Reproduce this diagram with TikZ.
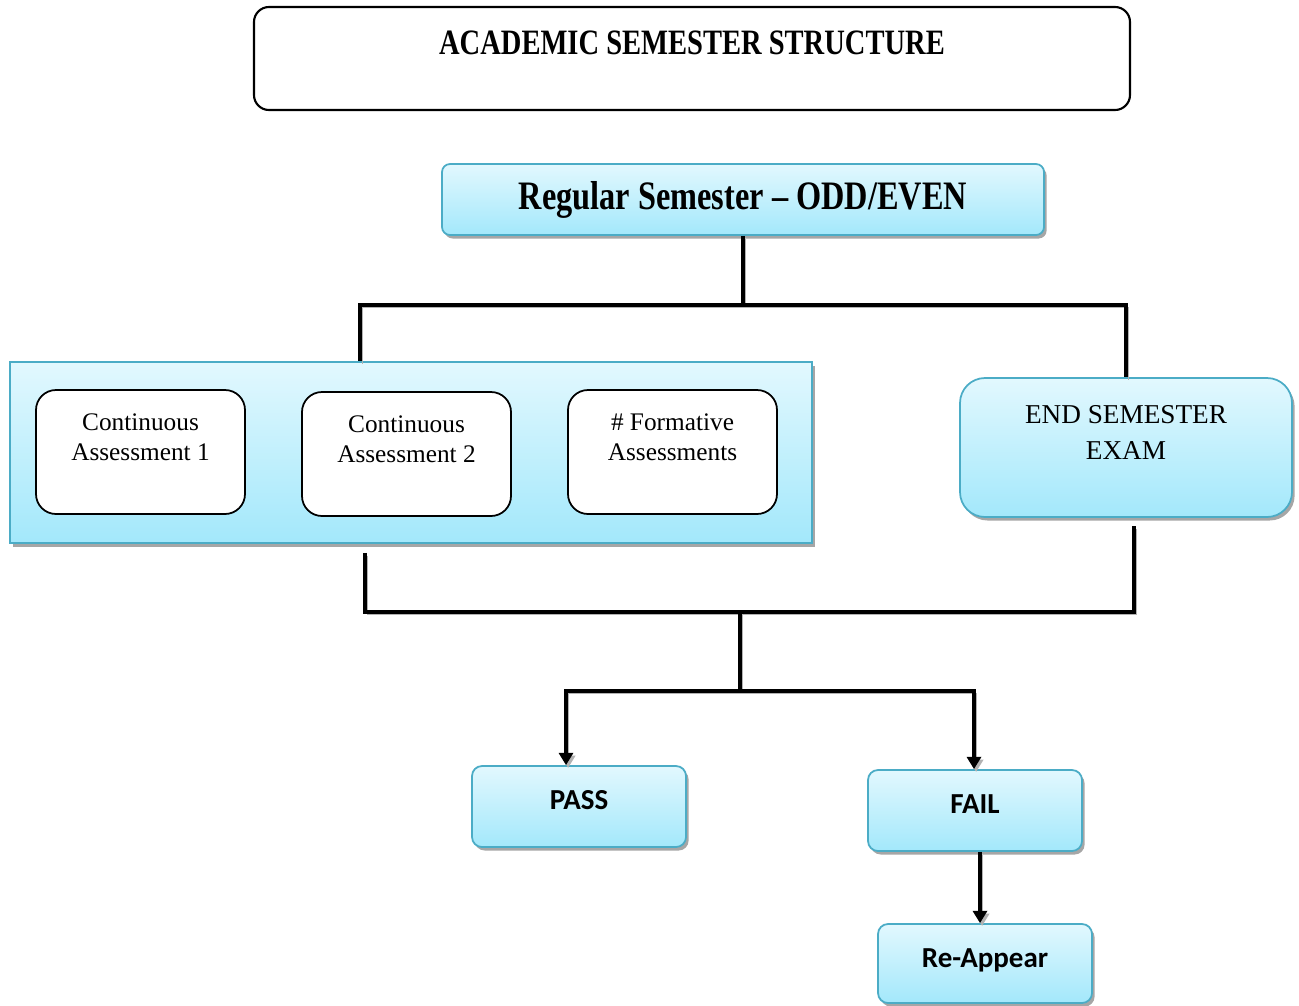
\documentclass[tikz,border=0pt]{standalone}
\usepackage{fontspec}
\setmainfont{Liberation Serif}
\newfontfamily\headfont{Liberation Serif}[FakeStretch=0.8]
\newfontfamily\calfont{Carlito}
\usetikzlibrary{positioning,shapes,arrows.meta,shadows}
\definecolor{boxtop}{HTML}{E2F8FE}
\definecolor{boxbot}{HTML}{A3E8FB}
\definecolor{boxline}{HTML}{4BACC6}
\newcommand{\pxu}{0.02cm}
\tikzstyle{hd}=[%
      rectangle, rounded corners=0.3cm, draw=black, line width=1.2pt, fill=white,
      align=center, minimum width=876*\pxu, minimum height=103*\pxu, inner sep=0pt
]
\tikzstyle{bb}=[%
      rectangle, draw=boxline, line width=1pt, top color=boxtop, bottom color=boxbot,
      drop shadow={shadow xshift=1.5pt, shadow yshift=-2pt, fill=gray!70, opacity=1},
      align=center, inner sep=0pt
]
\tikzstyle{en}=[%
      rectangle, rounded corners=0.4cm, draw=black, line width=1pt, fill=white,
      minimum width=209*\pxu, minimum height=124*\pxu, align=center, inner sep=0pt,
      text depth=17pt, font=\fontsize{14.4}{17}\selectfont
]
\tikzstyle{res}=[%
      bb, rounded corners=0.2cm, minimum width=214*\pxu, text height=10.6pt,
      font=\calfont\bfseries\fontsize{16.5}{20}\selectfont
]

\begin{document}
\begin{tikzpicture}[x=0.02cm, y=-0.02cm,
    >={Triangle[width=8pt,length=7pt]},
    conn/.style={%
      line width=2.4pt,
      preaction={draw=gray!60, transform canvas={shift={(1.2pt,-1.6pt)}}}
    },
]
    \useasboundingbox (0,0) rectangle (1299,1005);
    \node[hd, text depth=17.6pt, font=\headfont\bfseries\fontsize{20.3}{24}\selectfont]
         (title) at (692,58.5) {ACADEMIC SEMESTER STRUCTURE};
    \node[bb, rounded corners=0.16cm, minimum width=602*\pxu, minimum height=71*\pxu,
          font=\headfont\bfseries\fontsize{23}{27}\selectfont]
         (reg) at (743,199.5) {Regular Semester – ODD/EVEN};
    \node[bb, sharp corners, minimum width=802*\pxu, minimum height=181*\pxu]
         (cont) at (411,452.5) {};
    \node[en] (ca1) at (140.5,452) {Continuous\\Assessment 1};
    \node[en] (ca2) at (406.5,454) {Continuous\\Assessment 2};
    \node[en] (fa)  at (672.5,452) {\# Formative\\Assessments};
    \node[bb, rounded corners=0.5cm, minimum width=332*\pxu, minimum height=139*\pxu,
          text depth=17.5pt, font=\fontsize{15.5}{20.5}\selectfont]
         (endsem) at (1126,447.5) {END SEMESTER\\EXAM};
    \node[res, minimum height=81*\pxu, text depth=7.4pt] (pass)  at (579,806.5) {PASS};
    \node[res, minimum height=81*\pxu, text depth=7.4pt] (fail)  at (975,810.5) {FAIL};
    \node[res, minimum height=79*\pxu, text depth=6.2pt] (reapp) at (985,963.5) {Re-Appear};

    % split after the regular semester
    \coordinate (tl) at (360,305);
    \coordinate (tr) at (endsem.north |- tl);
    \draw[conn] (reg.south) -- (reg.south |- tl);
    \draw[conn] (cont.north -| tl) -- (tl) -- (tr) -- (endsem.north);

    % merge of the assessments
    \coordinate (bl) at (365,612);
    \coordinate (br) at (1134,612);
    \coordinate (mid) at (740,612);
    \draw[conn] ([yshift=-0.18cm]cont.south -| bl) -- (bl) -- (br) -- ([yshift=-0.16cm]endsem.south -| br);

    % result
    \coordinate (pl) at (566,691);
    \coordinate (pr) at (974,691);
    \coordinate (fr) at (980,0);
    \draw[conn] (mid) -- (mid |- pl);
    \draw[conn, <->] (pass.north -| pl) -- (pl) -- (pr) -- (fail.north -| pr);
    \draw[conn, ->] (fail.south -| fr) -- (reapp.north -| fr);
\end{tikzpicture}
\end{document}
